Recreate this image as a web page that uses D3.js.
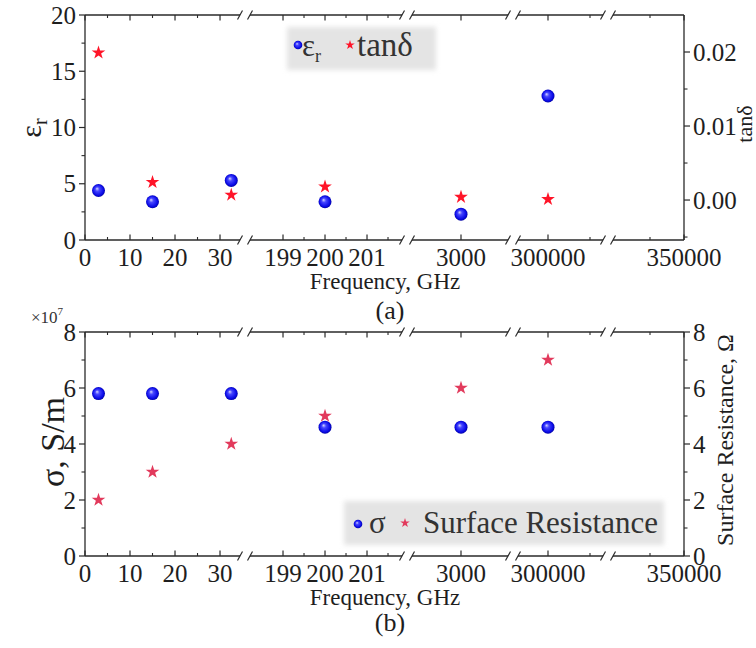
<!DOCTYPE html>
<html>
<head>
<meta charset="utf-8">
<script src="https://cdn.jsdelivr.net/npm/d3@7"></script>
<style>
  body { margin: 0; background: #fff; }
  svg { display: block; }
</style>
</head>
<body>
<svg id="chart" width="756" height="648"></svg>
<script>
// Measurement frequencies (GHz)
const freqs = [3, 15, 32.5, 200, 3000, 300000];
// Panel (a): relative permittivity and loss tangent
const epsR = [4.4, 3.4, 5.3, 3.4, 2.3, 12.8];
const tanD = [0.0199, 0.0024, 0.0007, 0.0018, 0.0004, 0.0001];
// Panel (b): conductivity (x10^7 S/m) and surface resistance (Ohm)
const sigma = [5.8, 5.8, 5.8, 4.6, 4.6, 4.6];
const surfRes = [2, 3, 4, 5, 6, 7];

// Broken frequency axis: one linear piece per segment
const xSegmentDomains = [[0, 34.44], [198.214, 201.833], [2951, 3047], [291071, 316369], [339559, 350000]];
const xMajorTicks = [0, 10, 20, 30, 199, 200, 201, 3000, 300000, 350000];
const xMinorTicks = [5, 15, 25, 199.5, 200.5, 201.5, 312500, 345000];

const epsTicks = [0, 5, 10, 15, 20];
const epsMinor = [2.5, 7.5, 12.5, 17.5];
const tanTicks = [0, 0.01, 0.02];
const tanMinor = [-0.005, 0.005, 0.015];
const sigTicks = [0, 2, 4, 6, 8];
const sigMinor = [1, 3, 5, 7];

const FONT = '"Liberation Serif", "Times New Roman", serif';
const svg = d3.select("#chart");
const defs = svg.append("defs");

// Shaded sphere for the blue markers
const grad = defs.append("radialGradient").attr("id", "sphere")
  .attr("cx", "50%").attr("cy", "50%").attr("r", "55%").attr("fx", "38%").attr("fy", "35%");
grad.append("stop").attr("offset", "0%").attr("stop-color", "#d6d6ff");
grad.append("stop").attr("offset", "30%").attr("stop-color", "#4646ff");
grad.append("stop").attr("offset", "75%").attr("stop-color", "#0a0ae6");
grad.append("stop").attr("offset", "100%").attr("stop-color", "#00008c");

const soft = defs.append("filter").attr("id", "soft")
  .attr("x", "-10%").attr("y", "-20%").attr("width", "120%").attr("height", "140%");
soft.append("feGaussianBlur").attr("stdDeviation", 2.5);

const axisColor = "#2a2a2a";
const left = 85, right = 684;
const segRanges = [[85, 240], [250, 402], [412, 508], [518, 603], [613, 684]];

function brokenScale(domains, ranges) {
  const pieces = domains.map((d, i) => d3.scaleLinear().domain(d).range(ranges[i]));
  const f = v => {
    const p = pieces.find(s => v >= s.domain()[0] - 1e-9 && v <= s.domain()[1] + 1e-9);
    return p ? p(v) : null;
  };
  f.pieces = pieces;
  return f;
}
const x = brokenScale(xSegmentDomains, segRanges);

const starSym = (r) => d3.symbol().type(d3.symbolStar).size(r * r / 0.8908130915292852)();

function label(g, xPos, yPos, size, str, anchor) {
  return g.append("text").attr("x", xPos).attr("y", yPos)
    .style("font-family", FONT).style("font-size", size + "px")
    .attr("text-anchor", anchor || "start").attr("fill", "#1e1e1e").text(str);
}

function drawXAxis(g, yPos, dir, withLabels) {
  // dir: +1 ticks point down (top axis), -1 ticks point up (bottom axis)
  x.pieces.forEach((s, i) => {
    const [r0, r1] = s.range();
    g.append("line").attr("x1", r0).attr("x2", r1).attr("y1", yPos).attr("y2", yPos)
      .attr("stroke", axisColor).attr("stroke-width", 1.3);
    // break marks
    if (i > 0) g.append("line").attr("x1", r0 - 2.5).attr("y1", yPos + 4.5).attr("x2", r0 + 2.5).attr("y2", yPos - 4.5)
      .attr("stroke", axisColor).attr("stroke-width", 1.2);
    if (i < x.pieces.length - 1) g.append("line").attr("x1", r1 - 2.5).attr("y1", yPos + 4.5).attr("x2", r1 + 2.5).attr("y2", yPos - 4.5)
      .attr("stroke", axisColor).attr("stroke-width", 1.2);
  });
  xMajorTicks.forEach(t => {
    const px = x(t);
    g.append("line").attr("x1", px).attr("x2", px).attr("y1", yPos).attr("y2", yPos + dir * 5.5)
      .attr("stroke", axisColor).attr("stroke-width", 1.2);
    if (withLabels) label(g, px, yPos + 26, 25, t, "middle");
  });
  xMinorTicks.forEach(t => {
    const px = x(t);
    g.append("line").attr("x1", px).attr("x2", px).attr("y1", yPos).attr("y2", yPos + dir * 3)
      .attr("stroke", axisColor).attr("stroke-width", 1.1);
  });
}

function drawYAxis(g, scale, xPos, side, ticks, minor, fmt) {
  const [y0, y1] = scale.range();
  g.append("line").attr("x1", xPos).attr("x2", xPos).attr("y1", y0).attr("y2", y1)
    .attr("stroke", axisColor).attr("stroke-width", 1.3);
  ticks.forEach(t => {
    const py = scale(t);
    g.append("line").attr("x1", xPos).attr("x2", xPos + side * 6).attr("y1", py).attr("y2", py)
      .attr("stroke", axisColor).attr("stroke-width", 1.2);
    label(g, xPos + side * 9, py + 8.5, 25, fmt(t), side < 0 ? "end" : "start");
  });
  minor.forEach(t => {
    const py = scale(t);
    g.append("line").attr("x1", xPos).attr("x2", xPos + side * 3.5).attr("y1", py).attr("y2", py)
      .attr("stroke", axisColor).attr("stroke-width", 1.1);
  });
}

function drawSpheres(g, xs, ys, yScale) {
  g.selectAll(null).data(xs).join("circle")
    .attr("cx", d => x(d)).attr("cy", (d, i) => yScale(ys[i])).attr("r", 6.5)
    .attr("fill", "url(#sphere)");
}
function drawStars(g, xs, ys, yScale, color) {
  g.selectAll(null).data(xs).join("path")
    .attr("d", starSym(7.2))
    .attr("transform", (d, i) => `translate(${x(d)},${yScale(ys[i])})`)
    .attr("fill", color);
}

// ---------- Panel (a) ----------
const ga = svg.append("g");
const aTop = 15, aBot = 240;
const yEps = d3.scaleLinear().domain([0, 20]).range([aBot, aTop]);
const yTan = d3.scaleLinear().domain([-0.0054, 0.025]).range([aBot, aTop]);

drawXAxis(ga, aBot, -1, true);
drawXAxis(ga, aTop, 1, false);
drawYAxis(ga, yEps, left, -1, epsTicks, epsMinor, d => d);
drawYAxis(ga, yTan, right, 1, tanTicks, tanMinor, d3.format(".2f"));

drawSpheres(ga, freqs, epsR, yEps);
drawStars(ga, freqs, tanD, yTan, "#ff1428");

// legend (a)
ga.append("rect").attr("x", 287).attr("y", 27).attr("width", 149).attr("height", 43)
  .attr("fill", "#e4e4e4").attr("filter", "url(#soft)");
ga.append("circle").attr("cx", 298).attr("cy", 45).attr("r", 4.3).attr("fill", "url(#sphere)");
const lt = label(ga, 302, 56, 31, "").attr("fill", "#333");
lt.append("tspan").text("ε");
lt.append("tspan").attr("dy", 6).style("font-size", "18px").text("r");
ga.append("path").attr("d", starSym(5)).attr("transform", "translate(350,45)").attr("fill", "#ff1428");
label(ga, 357, 56, 33, "tanδ").attr("fill", "#333");

// axis titles (a)
const ta = label(ga, 0, 0, 30, "", "middle").attr("transform", "translate(41,128) rotate(-90)");
ta.append("tspan").text("ε");
ta.append("tspan").attr("dy", 6).style("font-size", "20px").text("r");
label(ga, 0, 0, 22, "tanδ", "middle").attr("transform", "translate(752,124) rotate(-90)");
label(ga, 385, 289, 23, "Frequency, GHz", "middle");
label(ga, 390, 319, 26, "(a)", "middle");

// ---------- Panel (b) ----------
const gb = svg.append("g");
const bTop = 332, bBot = 556;
const ySig = d3.scaleLinear().domain([0, 8]).range([bBot, bTop]);
const yRes = d3.scaleLinear().domain([0, 8]).range([bBot, bTop]);

drawXAxis(gb, bBot, -1, true);
drawXAxis(gb, bTop, 1, false);
drawYAxis(gb, ySig, left, -1, sigTicks, sigMinor, d => d);
drawYAxis(gb, yRes, right, 1, sigTicks, sigMinor, d => d);

drawSpheres(gb, freqs, sigma, ySig);
drawStars(gb, freqs, surfRes, yRes, "#e23a5c");

// multiplier label
const mult = label(gb, 31, 323, 17, "").attr("fill", "#333");
mult.append("tspan").text("×10");
mult.append("tspan").attr("dy", -8).style("font-size", "11px").text("7");

// legend (b)
gb.append("rect").attr("x", 344).attr("y", 501).attr("width", 320).attr("height", 44)
  .attr("fill", "#e4e4e4").attr("filter", "url(#soft)");
gb.append("circle").attr("cx", 358).attr("cy", 524).attr("r", 4.3).attr("fill", "url(#sphere)");
label(gb, 369, 533, 31, "σ").attr("fill", "#333");
gb.append("path").attr("d", starSym(5)).attr("transform", "translate(405,523)").attr("fill", "#e23a5c");
label(gb, 423, 533, 31, "Surface Resistance").attr("fill", "#333");

// axis titles (b)
label(gb, 0, 0, 34, "σ, S/m", "middle").attr("transform", "translate(64,442) rotate(-90)");
label(gb, 0, 0, 24, "Surface Resistance, Ω", "middle").attr("transform", "translate(733,440) rotate(-90)");
label(gb, 385, 605, 23, "Frequency, GHz", "middle");
label(gb, 390, 631, 26, "(b)", "middle");
</script>
</body>
</html>
